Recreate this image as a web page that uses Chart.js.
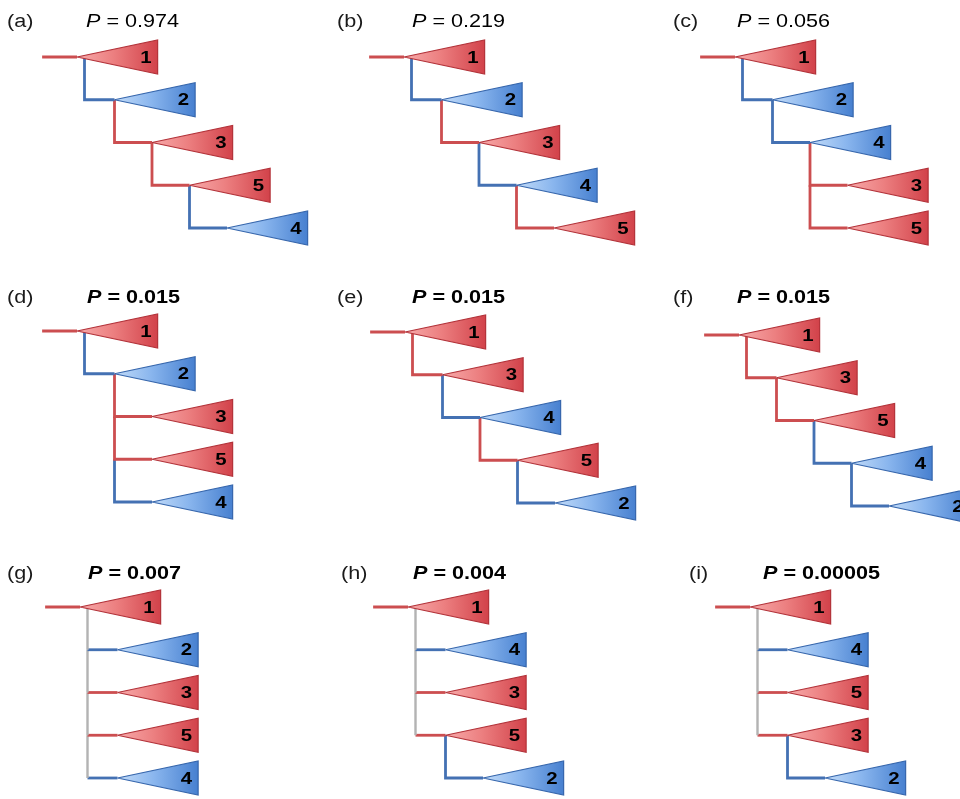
<!DOCTYPE html>
<html>
<head>
<meta charset="utf-8">
<script src="https://cdn.jsdelivr.net/npm/chart.js@4.4.0/dist/chart.umd.min.js"></script>
<style>
  html, body { margin: 0; padding: 0; background: #fff; }
  body { width: 960px; height: 799px; position: relative; overflow: hidden; }
  canvas { position: absolute; }
</style>
</head>
<body>
<script>
// ---- data ----
const panelLabels = ['(a)', '(b)', '(c)', '(d)', '(e)', '(f)', '(g)', '(h)', '(i)'];
const pValues = ['0.974', '0.219', '0.056', '0.015', '0.015', '0.015', '0.007', '0.004', '0.00005'];
const pBold = [false, false, false, true, true, true, true, true, true];
// clades top to bottom
const leafOrder = [
  [1, 2, 3, 5, 4],
  [1, 2, 3, 4, 5],
  [1, 2, 4, 3, 5],
  [1, 2, 3, 5, 4],
  [1, 3, 4, 5, 2],
  [1, 3, 5, 4, 2],
  [1, 2, 3, 5, 4],
  [1, 4, 3, 5, 2],
  [1, 4, 5, 3, 2]
];
// depth of the node that rows 1..4 hang from
const attachDepth = [
  [0, 1, 2, 3],
  [0, 1, 2, 3],
  [0, 1, 2, 2],
  [0, 1, 1, 1],
  [0, 1, 2, 3],
  [0, 1, 2, 3],
  [0, 0, 0, 0],
  [0, 0, 0, 1],
  [0, 0, 0, 1]
];
// 1 = unresolved (grey) stem segment
const greyStem = [
  [0, 0, 0, 0],
  [0, 0, 0, 0],
  [0, 0, 0, 0],
  [0, 0, 0, 0],
  [0, 0, 0, 0],
  [0, 0, 0, 0],
  [1, 1, 1, 1],
  [1, 1, 1, 0],
  [1, 1, 1, 0]
];
const redClades = [1, 3, 5];

// ---- layout ----
const STEP = 37.5, ROW = 42.75;
const TRI_W = 2.15, TRI_H = 0.4, STUB = 0.93, ROOT_SHIFT = 0.2;
const colLeft = [0, 320, 640];
const rowTop = [0, 268, 545];
const rowH = [268, 277, 254];
const originX = [77, 404, 735, 77, 405, 739, 80, 408, 750];
const originY = [57, 57, 57, 331, 332, 335, 607, 607, 607];
const labelX = [7, 337, 673, 7, 337, 673, 7, 341, 689];
const pX = [86, 412, 737, 87, 412, 737, 88, 413, 763];
const baseY = [27, 27, 27, 303, 303, 303, 579, 579, 579];

const RED = {light: '#f7aaaa', mid: '#ec7f80', dark: '#d2424a', edge: '#b3333a', line: '#cc4e50'};
const BLUE = {light: '#c2dbf8', mid: '#8ab6ee', dark: '#4780d0', edge: '#3767ad', line: '#4471b3'};
const GREY = '#b3b3b3';
const FONT = '"Liberation Sans", Arial, sans-serif';

function palette(clade) {
  return redClades.includes(clade) ? RED : BLUE;
}

function buildDatasets(p) {
  const order = leafOrder[p], att = attachDepth[p], grey = greyStem[p];
  const apex = [0].concat(att.map(d => d + 1));
  const sets = [];
  const line = (pts, color, width) => sets.push({
    data: pts, borderColor: color, borderWidth: width || 2.8, pointRadius: 0,
    fill: false, tension: 0, order: 2, borderJoinStyle: 'miter', borderCapStyle: 'butt'
  });

  line([{x: -STUB, y: 0}, {x: 0, y: 0}], palette(order[0]).line);
  for (let k = 1; k < order.length; k++) {
    const d = att[k - 1];
    const nx = d === 0 ? ROOT_SHIFT : d;
    const col = palette(order[k]).line;
    if (grey[k - 1]) {
      line([{x: nx, y: k - 1}, {x: nx, y: k}], GREY, 2.4);
      line([{x: nx, y: k}, {x: apex[k], y: k}], col);
    } else {
      line([{x: nx, y: k - 1}, {x: nx, y: k}, {x: apex[k], y: k}], col);
    }
  }

  order.forEach((clade, k) => {
    const pal = palette(clade);
    const x0 = apex[k], x1 = apex[k] + TRI_W;
    sets.push({
      clade: clade, row: k, right: x1,
      data: [{x: x0, y: k}, {x: x1, y: k - TRI_H}, {x: x1, y: k + TRI_H}, {x: x0, y: k}],
      borderColor: pal.edge, borderWidth: 1.2, pointRadius: 0, tension: 0,
      fill: 'shape', order: 1,
      backgroundColor: c => {
        const ch = c.chart;
        if (!ch.chartArea) return pal.dark;
        const xs = ch.scales.x;
        const g = ch.ctx.createLinearGradient(xs.getPixelForValue(x0), 0, xs.getPixelForValue(x1), 0);
        g.addColorStop(0, pal.light);
        g.addColorStop(0.45, pal.mid);
        g.addColorStop(1, pal.dark);
        return g;
      }
    });
  });
  return sets;
}

const treeText = {
  id: 'treeText',
  afterDatasetsDraw(chart, args, opts) {
    const {ctx} = chart;
    const xs = chart.scales.x, ys = chart.scales.y;
    const p = opts.panel;
    const stretch = 1.2;
    const put = (txt, x, y, font, align) => {
      ctx.save();
      ctx.translate(x, y);
      ctx.scale(stretch, 1);
      ctx.font = font;
      ctx.textAlign = align;
      ctx.fillText(txt, 0, 0);
      ctx.restore();
    };
    ctx.save();
    ctx.fillStyle = '#000';
    ctx.textBaseline = 'middle';
    chart.data.datasets.forEach(ds => {
      if (ds.clade === undefined) return;
      put(String(ds.clade), xs.getPixelForValue(ds.right) - 6, ys.getPixelForValue(ds.row) + 1,
        'bold 17px ' + FONT, 'right');
    });

    ctx.textBaseline = 'alphabetic';
    const cx = colLeft[p % 3], top = rowTop[Math.floor(p / 3)];
    const by = baseY[p] - top;
    ctx.fillStyle = '#1a1a1a';
    put(panelLabels[p], labelX[p] - cx, by, '18px ' + FONT, 'left');
    ctx.fillStyle = '#000';
    const w = pBold[p] ? 'bold ' : '';
    put('P', pX[p] - cx, by, 'italic ' + w + '18px ' + FONT, 'left');
    ctx.font = 'italic ' + w + '18px ' + FONT;
    const pw = ctx.measureText('P').width * stretch;
    put(' = ' + pValues[p], pX[p] - cx + pw, by, w + '18px ' + FONT, 'left');
    ctx.restore();
  }
};

for (let p = 0; p < 9; p++) {
  const c = p % 3, r = Math.floor(p / 3);
  const cv = document.createElement('canvas');
  cv.width = 320;
  cv.height = rowH[r];
  cv.style.left = colLeft[c] + 'px';
  cv.style.top = rowTop[r] + 'px';
  document.body.appendChild(cv);

  const xMin = -(originX[p] - colLeft[c]) / STEP;
  const yMin = -(originY[p] - rowTop[r]) / ROW;

  new Chart(cv, {
    type: 'line',
    data: {datasets: buildDatasets(p)},
    options: {
      responsive: false,
      animation: false,
      events: [],
      layout: {padding: 0, autoPadding: false},
      scales: {
        x: {type: 'linear', display: false, min: xMin, max: xMin + 320 / STEP},
        y: {type: 'linear', display: false, reverse: true, min: yMin, max: yMin + rowH[r] / ROW}
      },
      plugins: {
        legend: {display: false},
        tooltip: {enabled: false},
        treeText: {panel: p}
      }
    },
    plugins: [treeText]
  });
}
</script>
</body>
</html>
